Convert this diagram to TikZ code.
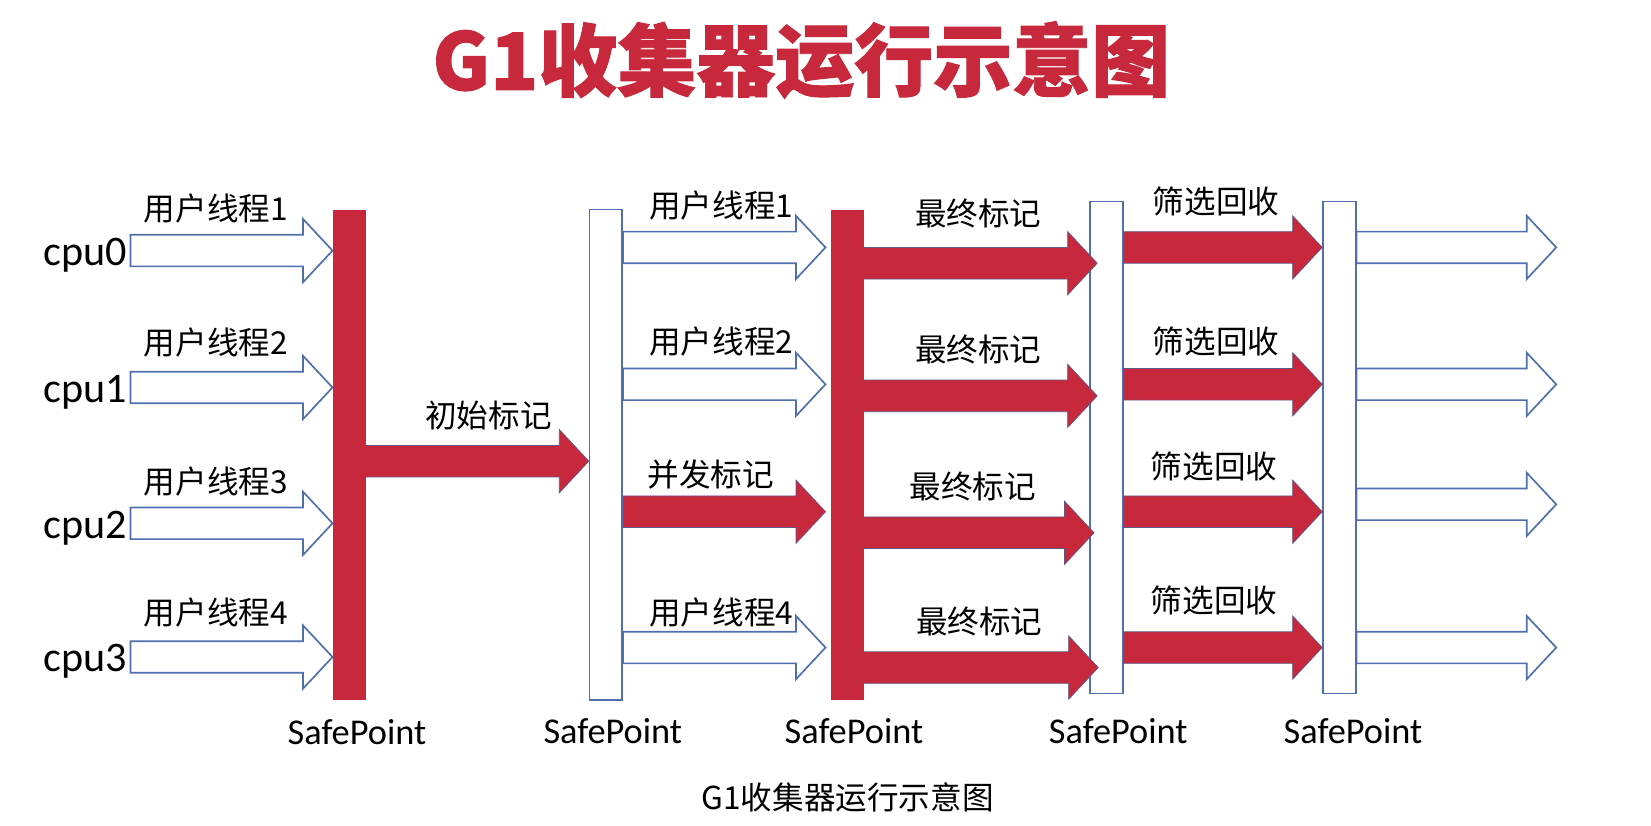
\documentclass[tikz,border=0pt]{standalone}
\usepackage{fontspec}
\setmainfont{Carlito}
\newfontfamily\cjk{Noto Sans CJK SC}
\newfontfamily\cjkheavy{Noto Sans CJK SC}[BoldFeatures={FakeBold=1.2}]
\pgfdeclarelayer{front}
\pgfsetlayers{main,front}
\definecolor{gcred}{HTML}{C8283C}
\definecolor{gcblue}{HTML}{4F6FAE}
\definecolor{gcedge}{HTML}{5E5684}
\tikzset{
  blockarrow/.style={to path={([yshift=15pt]\tikztostart) -- ([xshift=-28pt,yshift=15pt]\tikztotarget) -- ([xshift=-28pt,yshift=30pt]\tikztotarget) -- (\tikztotarget) -- ([xshift=-28pt,yshift=-30pt]\tikztotarget) -- ([xshift=-28pt,yshift=-15pt]\tikztotarget) -- ([yshift=-15pt]\tikztostart) -- cycle}},
  userarrow/.style={blockarrow, draw=gcblue, line width=1.6pt, fill=white, line join=miter},
  gcarrow/.style={blockarrow, fill=gcred, draw=gcedge, line width=0.7pt},
  redbar/.style={rectangle, fill=gcred, inner sep=0pt, minimum width=32pt, minimum height=466pt},
  whitebar/.style={rectangle, draw=gcblue, line width=1.6pt, fill=white, inner sep=0pt, minimum width=31pt},
  lbl/.style={font=\cjk\fontsize{30}{36}\selectfont, inner sep=0pt},
  sp/.style={font=\fontsize{34.5}{40}\selectfont, inner sep=0pt, anchor=base},
  cpu/.style={font=\fontsize{40}{46}\selectfont, inner sep=0pt, anchor=base west},
}
\begin{document}
\begin{tikzpicture}[x=1pt,y=-1pt]
\fill[white] (0,0) rectangle (1568,784);
\useasboundingbox (0,0) rectangle (1568,784);

% title
\node[font=\cjkheavy\bfseries\fontsize{75}{80}\selectfont, text=gcred, inner sep=0pt] (title) at (761,57) {G1收集器运行示意图};

% safepoint bars
\begin{pgfonlayer}{front}
\node[redbar] (b1) at (332,432) {};
\node[redbar, minimum width=31.5pt] (b3) at (805,432) {};
\end{pgfonlayer}
\node[whitebar, minimum height=466pt] (b2) at (575.5,432) {};
\node[whitebar, minimum height=467pt] (b4) at (1051,425) {};
\node[whitebar, minimum height=467pt] (b5) at (1272,425) {};

% cpu rows
\node[cpu] (cpu0) at (41,252) {cpu0};
\node[cpu] (cpu1) at (41,382) {cpu1};
\node[cpu] (cpu2) at (41,511) {cpu2};
\node[cpu] (cpu3) at (41,638) {cpu3};
\coordinate (c0) at (124,238);
\coordinate (c1) at (124,368);
\coordinate (c2) at (124,497);
\coordinate (c3) at (124,624);
\draw[userarrow] (c0) to (b1.west |- c0);
\draw[userarrow] (c1) to (b1.west |- c1);
\draw[userarrow] (c2) to (b1.west |- c2);
\draw[userarrow] (c3) to (b1.west |- c3);
\node[lbl] (u1) at (205,198) {用户线程1};
\node[lbl] (u2) at (205,325) {用户线程2};
\node[lbl] (u3) at (205,457) {用户线程3};
\node[lbl] (u4) at (205,582) {用户线程4};

% initial mark
\draw[gcarrow] (b1.center |- 0,438) to (b2.west |- 0,438);
\node[lbl] (init) at (464,395) {初始标记};

% concurrent phase
\coordinate (m1) at (784,235);
\coordinate (m2) at (784,365);
\coordinate (m3) at (784,486);
\coordinate (m4) at (784,615);
\draw[userarrow] (b2.east |- m1) to (m1);
\draw[userarrow] (b2.east |- m2) to (m2);
\draw[gcarrow] (b2.east |- m3) to (m3);
\draw[userarrow] (b2.east |- m4) to (m4);
\node[lbl] (v1) at (685,195) {用户线程1};
\node[lbl] (v2) at (685,324) {用户线程2};
\node[lbl] (conc) at (675,451) {并发标记};
\node[lbl] (v4) at (685,582) {用户线程4};

% final mark
\coordinate (f1) at (1042,250);
\coordinate (f2) at (1042,376);
\coordinate (f3) at (1039,506);
\coordinate (f4) at (1043,634);
\draw[gcarrow] (b3.center |- f1) to (f1);
\draw[gcarrow] (b3.center |- f2) to (f2);
\draw[gcarrow] (b3.center |- f3) to (f3);
\draw[gcarrow] (b3.center |- f4) to (f4);
\node[lbl] (fm1) at (929,203) {最终标记};
\node[lbl] (fm2) at (929,332) {最终标记};
\node[lbl] (fm3) at (924,462) {最终标记};
\node[lbl] (fm4) at (930,590) {最终标记};

% evacuation
\draw[gcarrow] (b4.east |- 0,235) to (b5.west |- 0,235);
\draw[gcarrow] (b4.east |- 0,365) to (b5.west |- 0,365);
\draw[gcarrow] (b4.east |- 0,486) to (b5.west |- 0,486);
\draw[gcarrow] (b4.east |- 0,615) to (b5.west |- 0,615);
\node[lbl] (e1) at (1155,191) {筛选回收};
\node[lbl] (e2) at (1155,324) {筛选回收};
\node[lbl] (e3) at (1153,443) {筛选回收};
\node[lbl] (e4) at (1153,570) {筛选回收};

% resumed user threads
\coordinate (r1) at (1478,235);
\coordinate (r2) at (1478,365);
\coordinate (r3) at (1478,479);
\coordinate (r4) at (1478,615);
\draw[userarrow] (b5.east |- r1) to (r1);
\draw[userarrow] (b5.east |- r2) to (r2);
\draw[userarrow] (b5.east |- r3) to (r3);
\draw[userarrow] (b5.east |- r4) to (r4);

% safepoint labels
\node[sp] (s1) at (339,707) {SafePoint};
\node[sp] (s2) at (582,706) {SafePoint};
\node[sp] (s3) at (811,706) {SafePoint};
\node[sp] (s4) at (1062,706) {SafePoint};
\node[sp] (s5) at (1285,706) {SafePoint};

% caption
\node[lbl] (cap) at (805,757) {G1收集器运行示意图};
\end{tikzpicture}
\end{document}
